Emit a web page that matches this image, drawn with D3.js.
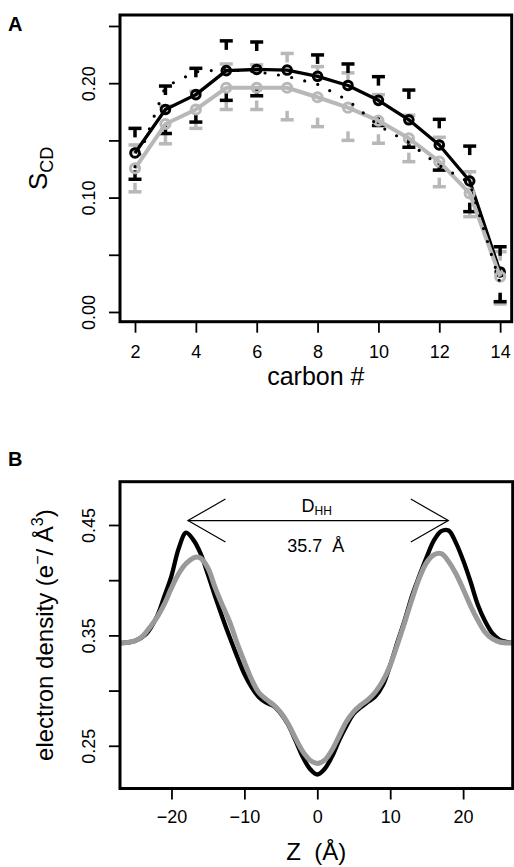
<!DOCTYPE html>
<html>
<head>
<meta charset="utf-8">
<script src="https://cdn.jsdelivr.net/npm/d3@7"></script>
<style>
  html, body { margin: 0; padding: 0; background: #fff; }
  svg { display: block; font-family: "Liberation Sans", Arial, Helvetica, sans-serif; }
</style>
</head>
<body>
<svg id="chart" width="514" height="867"></svg>
<script>
// ---------- Panel A data ----------
const carbons = [2, 3, 4, 5, 6, 7, 8, 9, 10, 11, 12, 13, 14];
const blackScd = [0.139, 0.177, 0.190, 0.211, 0.212, 0.2115, 0.206, 0.198, 0.185, 0.168, 0.146, 0.1145, 0.035];
const grayScd  = [0.1256, 0.1643, 0.177, 0.196, 0.196, 0.196, 0.1877, 0.1786, 0.1672, 0.1518, 0.1314, 0.1037, 0.0309];
const dottedScd = [0.127, 0.197, 0.210, 0.212, 0.210, 0.206, 0.199, 0.185, 0.163, 0.148, 0.128, 0.113, 0.025];
const blackHi = [0.1605, 0.1975, 0.213, 0.237, 0.236, null, 0.2247, 0.2168, 0.2057, 0.194, 0.1684, 0.145, 0.057];
const blackLo = [0.116, 0.156, 0.166, 0.185, 0.189, null, null, null, 0.163, 0.144, 0.124, 0.0877, 0.009];
const grayHi  = [0.146, 0.18, 0.193, 0.2168, 0.216, 0.226, 0.2145, 0.209, 0.19, 0.172, 0.1527, 0.1226, 0.0527];
const grayLo  = [0.105, 0.147, 0.1605, 0.177, 0.177, 0.168, 0.162, 0.150, 0.1475, 0.1314, 0.1095, 0.0833, 0.007];
const xTicksA = [2, 4, 6, 8, 10, 12, 14];
const yTicksA = [0, 0.05, 0.10, 0.15, 0.20, 0.25];
const yTickLabelsA = ["0.00", "", "0.10", "", "0.20", ""];

// ---------- Panel B data ----------
const zBlack = [-27, -25, -23.5, -22, -21, -20, -19, -18, -17, -16, -15, -14, -13, -12, -11, -10, -9, -8, -7, -6, -5, -4, -3, -2, -1, 0,
                1, 2, 3, 4, 5, 6, 7, 8, 9, 10, 11, 12, 13, 14, 15, 16, 17, 18, 19, 20, 21, 22, 23, 24, 25, 26, 27];
const densBlack = [0.343, 0.345, 0.351, 0.367, 0.385, 0.404, 0.429, 0.443, 0.4365, 0.424, 0.405, 0.385, 0.366, 0.348, 0.331, 0.315, 0.303, 0.294, 0.289, 0.286, 0.279, 0.269, 0.255, 0.240, 0.229, 0.224,
                   0.229, 0.240, 0.255, 0.268, 0.279, 0.285, 0.290, 0.295, 0.305, 0.323, 0.344, 0.364, 0.386, 0.404, 0.421, 0.436, 0.4445, 0.445, 0.434, 0.418, 0.399, 0.378, 0.363, 0.352, 0.346, 0.344, 0.343];
const zGray = [-27, -25, -24, -23, -22, -21, -20, -19, -18, -17, -16.5, -16, -15, -14, -13, -12, -11, -10, -9, -8, -7, -6, -5, -4, -3, -2, -1, 0,
               1, 2, 3, 4, 5, 6, 7, 8, 9, 10, 11, 12, 13, 14, 15, 16, 17, 18, 19, 20, 21, 22, 23, 24, 25, 27];
const densGray = [0.343, 0.345, 0.349, 0.357, 0.366, 0.378, 0.393, 0.406, 0.415, 0.420, 0.421, 0.420, 0.411, 0.393, 0.377, 0.362, 0.343, 0.326, 0.310, 0.298, 0.292, 0.287, 0.280, 0.270, 0.257, 0.245, 0.237, 0.234,
                  0.237, 0.246, 0.259, 0.272, 0.281, 0.287, 0.292, 0.299, 0.309, 0.323, 0.342, 0.362, 0.383, 0.402, 0.416, 0.423, 0.424, 0.417, 0.406, 0.392, 0.377, 0.364, 0.353, 0.347, 0.344, 0.343];
const xTicksB = [-20, -10, 0, 10, 20];
const xTickLabelsB = ["\u221220", "\u221210", "0", "10", "20"];
const yTicksB = [0.25, 0.30, 0.35, 0.40, 0.45];
const yTickLabelsB = ["0.25", "", "0.35", "", "0.45"];
const dhhFrom = -17.74, dhhTo = 17.97, dhhLevel = 0.454;
const dhhValue = "35.7";

// ---------- Layout ----------
const svg = d3.select("#chart");
const A = {left: 120, right: 511.7, top: 15, bottom: 321.7};
const B = {left: 120, right: 512.7, top: 481.7, bottom: 788.5};
const grayA = "#b8b8b8";
const grayB = "#9a9a9a";

const xA = d3.scaleLinear().domain([1.507, 14.38]).range([A.left, A.right]);
const yA = d3.scaleLinear().domain([-0.0085, 0.2596]).range([A.bottom, A.top]);
const xB = d3.scaleLinear().domain([-27.06, 26.8]).range([B.left, B.right]);
const yB = d3.scaleLinear().domain([0.2113, 0.4892]).range([B.bottom, B.top]);

function styleAxis(g) {
  g.select(".domain").remove();
  g.selectAll(".tick line").attr("stroke", "#000").attr("stroke-width", 1.8);
  g.selectAll(".tick text").attr("fill", "#000").attr("font-size", 18);
}

// ---------- Panel A ----------
const gA = svg.append("g");

gA.append("g").attr("transform", `translate(0,${A.bottom})`)
  .call(d3.axisBottom(xA).tickValues(xTicksA).tickSize(11).tickFormat(d3.format("d")))
  .call(styleAxis)
  .call(g => g.selectAll(".tick text").attr("y", 36.5).attr("dy", 0));

gA.append("g").attr("transform", `translate(${A.left},0)`)
  .call(d3.axisLeft(yA).tickValues(yTicksA).tickSize(11).tickFormat((d, i) => yTickLabelsA[i]))
  .call(styleAxis)
  .call(g => g.selectAll(".tick text")
    .attr("transform", "rotate(-90)").attr("x", 0).attr("y", -25).attr("dy", 0)
    .attr("text-anchor", "middle"));

function errBars(g, hi, lo, color) {
  const capW = 13, stem = 9, sw = 3.5;
  carbons.forEach((c, i) => {
    const cx = xA(c);
    if (hi[i] != null) {
      const yy = yA(hi[i]);
      g.append("line").attr("x1", cx - capW / 2).attr("x2", cx + capW / 2).attr("y1", yy).attr("y2", yy)
        .attr("stroke", color).attr("stroke-width", sw);
      g.append("line").attr("x1", cx).attr("x2", cx).attr("y1", yy).attr("y2", yy + stem)
        .attr("stroke", color).attr("stroke-width", sw);
    }
    if (lo[i] != null) {
      const yy = yA(lo[i]);
      g.append("line").attr("x1", cx - capW / 2).attr("x2", cx + capW / 2).attr("y1", yy).attr("y2", yy)
        .attr("stroke", color).attr("stroke-width", sw);
      g.append("line").attr("x1", cx).attr("x2", cx).attr("y1", yy).attr("y2", yy - stem)
        .attr("stroke", color).attr("stroke-width", sw);
    }
  });
}
errBars(gA.append("g"), grayHi, grayLo, grayA);
errBars(gA.append("g"), blackHi, blackLo, "#000");

const lineA = d3.line().x((d, i) => xA(carbons[i])).y(d => yA(d));

gA.append("path").datum(blackScd).attr("d", lineA)
  .attr("fill", "none").attr("stroke", "#000").attr("stroke-width", 3.3).attr("stroke-linejoin", "round");
gA.append("g").selectAll("circle").data(blackScd).join("circle")
  .attr("cx", (d, i) => xA(carbons[i])).attr("cy", d => yA(d)).attr("r", 4.3)
  .attr("fill", "none").attr("stroke", "#000").attr("stroke-width", 3);

gA.append("path").datum(grayScd).attr("d", lineA)
  .attr("fill", "none").attr("stroke", grayA).attr("stroke-width", 4).attr("stroke-linejoin", "round");
gA.append("g").selectAll("circle").data(grayScd).join("circle")
  .attr("cx", (d, i) => xA(carbons[i])).attr("cy", d => yA(d)).attr("r", 4.6)
  .attr("fill", "none").attr("stroke", grayA).attr("stroke-width", 3);

gA.append("path").datum(dottedScd).attr("d", lineA)
  .attr("fill", "none").attr("stroke", "#000").attr("stroke-width", 3.2)
  .attr("stroke-linecap", "round").attr("stroke-dasharray", "0,13.5");

gA.append("rect").attr("x", A.left).attr("y", A.top)
  .attr("width", A.right - A.left).attr("height", A.bottom - A.top)
  .attr("fill", "none").attr("stroke", "#000").attr("stroke-width", 3);

const sLab = gA.append("text").attr("transform", `translate(47,${(A.top + A.bottom) / 2}) rotate(-90)`)
  .attr("text-anchor", "middle").attr("fill", "#000");
sLab.append("tspan").attr("font-size", 26).text("S");
sLab.append("tspan").attr("font-size", 18).attr("dy", 6).text("CD");

gA.append("text").attr("x", (A.left + A.right) / 2).attr("y", 385)
  .attr("text-anchor", "middle").attr("font-size", 25).text("carbon #");

svg.append("text").attr("x", 8).attr("y", 31).attr("font-size", 20).attr("font-weight", "bold").text("A");

// ---------- Panel B ----------
const gB = svg.append("g");

gB.append("g").attr("transform", `translate(0,${B.bottom})`)
  .call(d3.axisBottom(xB).tickValues(xTicksB).tickSize(11).tickFormat((d, i) => xTickLabelsB[i]))
  .call(styleAxis)
  .call(g => g.selectAll(".tick text").attr("y", 34.5).attr("dy", 0));

gB.append("g").attr("transform", `translate(${B.left},0)`)
  .call(d3.axisLeft(yB).tickValues(yTicksB).tickSize(11).tickFormat((d, i) => yTickLabelsB[i]))
  .call(styleAxis)
  .call(g => g.selectAll(".tick text")
    .attr("transform", "rotate(-90)").attr("x", 0).attr("y", -25).attr("dy", 0)
    .attr("text-anchor", "middle"));

svg.append("defs").append("clipPath").attr("id", "clipB").append("rect")
  .attr("x", B.left).attr("y", B.top).attr("width", B.right - B.left).attr("height", B.bottom - B.top);

const curveG = gB.append("g").attr("clip-path", "url(#clipB)");
curveG.append("path").datum(densBlack)
  .attr("d", d3.line().x((d, i) => xB(zBlack[i])).y(d => yB(d)).curve(d3.curveCatmullRom.alpha(0.5)))
  .attr("fill", "none").attr("stroke", "#000").attr("stroke-width", 4.3).attr("stroke-linejoin", "round");
curveG.append("path").datum(densGray)
  .attr("d", d3.line().x((d, i) => xB(zGray[i])).y(d => yB(d)).curve(d3.curveCatmullRom.alpha(0.5)))
  .attr("fill", "none").attr("stroke", grayB).attr("stroke-width", 5).attr("stroke-linejoin", "round");

const ax1 = xB(dhhFrom), ax2 = xB(dhhTo), ay = yB(dhhLevel);
const barbDx = 37.5, barbDy = 21.5;
const arrowG = gB.append("g").attr("stroke", "#000").attr("stroke-width", 1.2).attr("fill", "none");
arrowG.append("line").attr("x1", ax1).attr("x2", ax2).attr("y1", ay).attr("y2", ay);
arrowG.append("path").attr("d", `M${ax1 + barbDx},${ay - barbDy}L${ax1},${ay}L${ax1 + barbDx},${ay + barbDy}`);
arrowG.append("path").attr("d", `M${ax2 - barbDx},${ay - barbDy}L${ax2},${ay}L${ax2 - barbDx},${ay + barbDy}`);

const dLab = gB.append("text").attr("x", 301.5).attr("y", 512).attr("fill", "#000");
dLab.append("tspan").attr("font-size", 18).text("D");
dLab.append("tspan").attr("font-size", 12).attr("dy", 2.5).text("HH");

gB.append("text").attr("x", 287.3).attr("y", 551.5).attr("font-size", 18)
  .style("white-space", "pre").text(dhhValue + "  \u00C5");

gB.append("rect").attr("x", B.left).attr("y", B.top)
  .attr("width", B.right - B.left).attr("height", B.bottom - B.top)
  .attr("fill", "none").attr("stroke", "#000").attr("stroke-width", 3);

const eLab = gB.append("text").attr("transform", `translate(53,${(B.top + B.bottom) / 2}) rotate(-90)`)
  .attr("text-anchor", "middle").attr("font-size", 24).attr("fill", "#000");
eLab.append("tspan").text("electron density (e");
eLab.append("tspan").attr("font-size", 16).attr("dy", -10).text("\u2212");
eLab.append("tspan").attr("dy", 10).text("/ \u00C5");
eLab.append("tspan").attr("font-size", 16).attr("dy", -10).text("3");
eLab.append("tspan").attr("dy", 10).text(")");

gB.append("text").attr("x", (B.left + B.right) / 2).attr("y", 860)
  .attr("text-anchor", "middle").attr("font-size", 24)
  .style("white-space", "pre").text("Z  (\u00C5)");

svg.append("text").attr("x", 8).attr("y", 466).attr("font-size", 20).attr("font-weight", "bold").text("B");
</script>
</body>
</html>
